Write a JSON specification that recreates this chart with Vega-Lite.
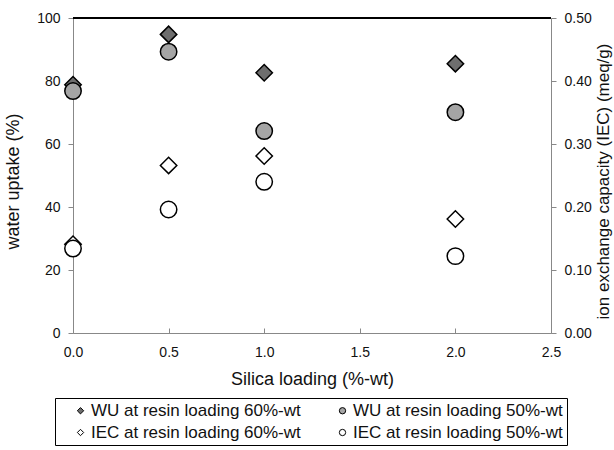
{
  "$schema": "https://vega.github.io/schema/vega-lite/v6.json",
  "width": 478,
  "height": 315,
  "autosize": "none",
  "padding": {"left": 73, "top": 18, "right": 63, "bottom": 117},
  "background": "white",
  "config": {
    "view": {"stroke": null},
    "font": "Liberation Sans",
    "axis": {
      "labelFont": "Liberation Sans",
      "titleFont": "Liberation Sans",
      "labelFontSize": 14,
      "titleFontSize": 18,
      "titleFontWeight": "normal",
      "labelColor": "#111",
      "titleColor": "#111",
      "domainColor": "#888",
      "tickColor": "#888",
      "grid": false
    },
    "legend": {
      "title": null,
      "orient": "none",
      "legendX": -18,
      "legendY": 380,
      "direction": "horizontal",
      "columns": 2,
      "columnPadding": 20,
      "rowPadding": 4,
      "padding": 4,
      "strokeColor": "black",
      "fillColor": "white",
      "symbolSize": 40,
      "symbolOffset": 13,
      "symbolStrokeColor": "black",
      "symbolStrokeWidth": 1,
      "labelFont": "Liberation Sans",
      "labelFontSize": 17,
      "labelColor": "#111",
      "labelOffset": 2,
      "labelLimit": 400,
      "labelExpr": "datum.label + '\u00a0\u00a0\u00a0\u00a0'"
    }
  },
  "data": {
    "values": [
      {"silica": 0.0, "series": "WU at resin loading 60%-wt", "kind": "WU", "value": 78.8},
      {"silica": 0.5, "series": "WU at resin loading 60%-wt", "kind": "WU", "value": 94.8},
      {"silica": 1.0, "series": "WU at resin loading 60%-wt", "kind": "WU", "value": 82.6},
      {"silica": 2.0, "series": "WU at resin loading 60%-wt", "kind": "WU", "value": 85.5},
      {"silica": 0.0, "series": "WU at resin loading 50%-wt", "kind": "WU", "value": 76.8},
      {"silica": 0.5, "series": "WU at resin loading 50%-wt", "kind": "WU", "value": 89.3},
      {"silica": 1.0, "series": "WU at resin loading 50%-wt", "kind": "WU", "value": 64.1},
      {"silica": 2.0, "series": "WU at resin loading 50%-wt", "kind": "WU", "value": 70.1},
      {"silica": 0.0, "series": "IEC at resin loading 60%-wt", "kind": "IEC", "value": 0.141},
      {"silica": 0.5, "series": "IEC at resin loading 60%-wt", "kind": "IEC", "value": 0.266},
      {"silica": 1.0, "series": "IEC at resin loading 60%-wt", "kind": "IEC", "value": 0.281},
      {"silica": 2.0, "series": "IEC at resin loading 60%-wt", "kind": "IEC", "value": 0.181},
      {"silica": 0.0, "series": "IEC at resin loading 50%-wt", "kind": "IEC", "value": 0.134},
      {"silica": 0.5, "series": "IEC at resin loading 50%-wt", "kind": "IEC", "value": 0.196},
      {"silica": 1.0, "series": "IEC at resin loading 50%-wt", "kind": "IEC", "value": 0.240},
      {"silica": 2.0, "series": "IEC at resin loading 50%-wt", "kind": "IEC", "value": 0.122}
    ]
  },
  "encoding": {
    "x": {
      "field": "silica",
      "type": "quantitative",
      "scale": {"domain": [0, 2.5], "nice": false, "zero": false},
      "axis": {
        "title": "Silica loading (%-wt)",
        "values": [0, 0.5, 1, 1.5, 2, 2.5],
        "format": ".1f",
        "tickSize": -5,
        "labelFlush": false,
        "labelPadding": 17,
        "titlePadding": 11
      }
    }
  },
  "layer": [
    {
      "mark": {"type": "rule", "color": "black", "strokeWidth": 1},
      "encoding": {
        "x": {"datum": 0, "type": "quantitative"},
        "x2": {"datum": 2.5},
        "y": {"datum": 100, "type": "quantitative", "scale": {"domain": [0, 100]}, "axis": null}
      }
    },
    {
      "transform": [{"filter": "datum.kind === 'WU'"}],
      "mark": {"type": "point", "filled": true, "strokeWidth": 1.5, "size": 270, "opacity": 1},
      "encoding": {
        "y": {
          "field": "value",
          "type": "quantitative",
          "scale": {"domain": [0, 100], "nice": false},
          "axis": {"orient": "left", "title": "water uptake (%)", "values": [0, 20, 40, 60, 80, 100], "tickSize": 5, "labelPadding": 8, "titlePadding": 14, "titleY": 163}
        },
        "shape": {
          "field": "series", "type": "nominal",
          "scale": {"domain": ["WU at resin loading 60%-wt", "WU at resin loading 50%-wt", "IEC at resin loading 60%-wt", "IEC at resin loading 50%-wt"], "range": ["diamond", "circle", "diamond", "circle"]}
        },
        "fill": {
          "field": "series", "type": "nominal",
          "scale": {"domain": ["WU at resin loading 60%-wt", "WU at resin loading 50%-wt", "IEC at resin loading 60%-wt", "IEC at resin loading 50%-wt"], "range": ["#6e6e6e", "#a5a5a5", "#ffffff", "#ffffff"]}
        },
        "stroke": {
          "field": "series", "type": "nominal",
          "scale": {"domain": ["WU at resin loading 60%-wt", "WU at resin loading 50%-wt", "IEC at resin loading 60%-wt", "IEC at resin loading 50%-wt"], "range": ["#000000", "#000000", "#000000", "#000000"]}
        }
      }
    },
    {
      "transform": [{"filter": "datum.kind === 'IEC'"}],
      "mark": {"type": "point", "filled": true, "strokeWidth": 1.5, "size": 270, "opacity": 1},
      "encoding": {
        "y": {
          "field": "value",
          "type": "quantitative",
          "scale": {"domain": [0, 0.5], "nice": false},
          "axis": {"orient": "right", "title": "ion exchange capacity (IEC) (meq/g)", "titleFontSize": 17, "values": [0, 0.1, 0.2, 0.3, 0.4, 0.5], "format": ".2f", "tickSize": 5, "labelPadding": 8, "titleAngle": 270, "titleX": 57, "titleY": 163, "titleAlign": "center", "titleBaseline": "alphabetic"}
        },
        "shape": {
          "field": "series", "type": "nominal",
          "scale": {"domain": ["WU at resin loading 60%-wt", "WU at resin loading 50%-wt", "IEC at resin loading 60%-wt", "IEC at resin loading 50%-wt"], "range": ["diamond", "circle", "diamond", "circle"]}
        },
        "fill": {
          "field": "series", "type": "nominal",
          "scale": {"domain": ["WU at resin loading 60%-wt", "WU at resin loading 50%-wt", "IEC at resin loading 60%-wt", "IEC at resin loading 50%-wt"], "range": ["#6e6e6e", "#a5a5a5", "#ffffff", "#ffffff"]}
        },
        "stroke": {
          "field": "series", "type": "nominal",
          "scale": {"domain": ["WU at resin loading 60%-wt", "WU at resin loading 50%-wt", "IEC at resin loading 60%-wt", "IEC at resin loading 50%-wt"], "range": ["#000000", "#000000", "#000000", "#000000"]}
        }
      }
    }
  ],
  "resolve": {"scale": {"y": "independent"}}
}
